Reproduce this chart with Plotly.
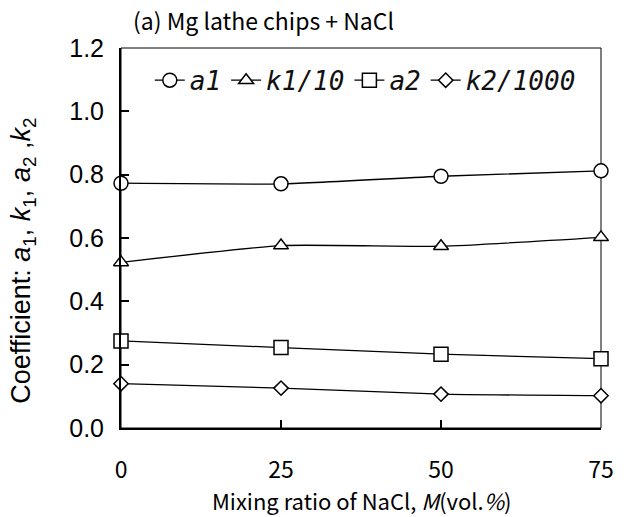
import plotly.graph_objects as go

x_ratio = [0, 25, 50, 75]
a1 = [0.773, 0.771, 0.795, 0.812]
k1_div10 = [0.523, 0.576, 0.574, 0.602]
a2 = [0.275, 0.254, 0.233, 0.219]
k2_div1000 = [0.140, 0.126, 0.107, 0.102]

series_names = ["a1", "k1/10", "a2", "k2/1000"]
series_vals = [a1, k1_div10, a2, k2_div1000]
symbols = ["circle", "triangle-up", "square", "diamond"]
sizes = [14, 13, 14, 11]

jp_font = "Noto Sans CJK JP"
ar_font = "Liberation Sans"
mono_font = "DejaVu Sans Mono"

fig = go.Figure()
for name, vals, sym, sz in zip(series_names, series_vals, symbols, sizes):
    fig.add_trace(go.Scatter(
        x=x_ratio, y=vals, name="<i>" + name + "</i>",
        mode="lines+markers",
        line=dict(color="black", width=1.3, shape="spline", smoothing=0.5),
        marker=dict(symbol=sym, size=sz, color="white",
                    line=dict(color="black", width=1.5)),
        cliponaxis=False,
    ))

fig.update_layout(
    width=626, height=517,
    margin=dict(l=121, r=17, t=48, b=89),
    paper_bgcolor="white", plot_bgcolor="white",
    showlegend=True,
    legend=dict(orientation="h", x=0.06, y=0.915, xanchor="left", yanchor="middle",
                font=dict(family=mono_font, size=26, color="#111111"),
                bgcolor="rgba(0,0,0,0)", itemwidth=30, tracegroupgap=0),
    shapes=[dict(type="rect", xref="paper", yref="paper", x0=0, x1=1, y0=0, y1=1,
                 line=dict(color="black", width=1), layer="below")],
    annotations=[
        dict(text="(a) Mg lathe chips + NaCl", xref="paper", yref="paper",
             x=0.02, y=1.0, xanchor="left", yanchor="bottom", yshift=9, showarrow=False,
             font=dict(family=jp_font, size=23, color="black")),
        dict(text="Mixing ratio of NaCl, <i>M</i>(vol.<i>%</i>)", xref="paper", yref="paper",
             x=0.5, y=0, xanchor="center", yanchor="middle", yshift=-72, showarrow=False,
             font=dict(family=jp_font, size=22, color="black")),
        dict(text="Coefficient: <i>a</i><sub>1</sub>, <i>k</i><sub>1</sub>, <i>a</i><sub>2</sub> ,<i>k</i><sub>2</sub>",
             xref="paper", yref="paper", x=0, y=0.44, xanchor="center", yanchor="middle",
             xshift=-98, textangle=-90, showarrow=False,
             font=dict(family=ar_font, size=27, color="black")),
    ],
)
fig.update_xaxes(range=[0, 75], tickvals=[0, 25, 50, 75], ticks="inside", ticklen=8,
                 tickwidth=1.5, tickcolor="black", showline=True, linecolor="black", linewidth=2,
                 showgrid=False, zeroline=False, ticklabelstandoff=20,
                 tickfont=dict(family=jp_font, size=23, color="black"))
fig.update_yaxes(range=[0, 1.2], tickvals=[0, 0.2, 0.4, 0.6, 0.8, 1.0, 1.2],
                 ticktext=["0.0", "0.2", "0.4", "0.6", "0.8", "1.0", "1.2"],
                 ticks="inside", ticklen=8, tickwidth=1.5, tickcolor="black",
                 showline=True, linecolor="black", linewidth=2,
                 showgrid=False, zeroline=False, ticklabelstandoff=10,
                 tickfont=dict(family=ar_font, size=25, color="black"))

fig.write_html("out.html")
